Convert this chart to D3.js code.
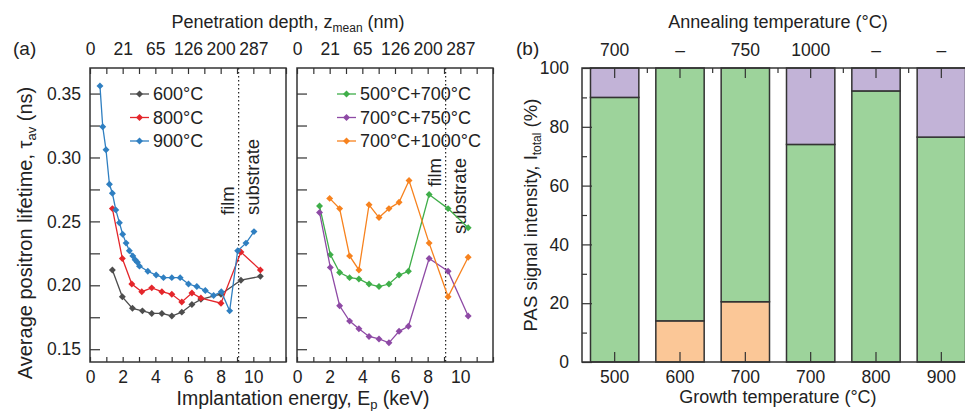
<!DOCTYPE html>
<html>
<head>
<meta charset="utf-8">
<script src="https://cdn.jsdelivr.net/npm/d3@7"></script>
<style>
  body { margin: 0; background: #fff; }
  svg { font-family: "Liberation Sans", Arial, Helvetica, sans-serif; }
</style>
</head>
<body>
<div id="chart"></div>
<script>
// ---- data: panel (a), left half (implantation energy keV / lifetime ns)
var energy600 = [1.37, 1.98, 2.6, 3.21, 3.78, 4.4, 5.01, 5.62, 6.24, 6.79, 8.02, 9.24, 10.43];
var tau600    = [0.212, 0.191, 0.182, 0.180, 0.178, 0.178, 0.176, 0.179, 0.185, 0.189, 0.193, 0.204, 0.207];
var energy800 = [1.37, 1.98, 2.56, 3.17, 3.78, 4.4, 5.01, 5.62, 6.24, 6.79, 8.02, 9.24, 10.43];
var tau800    = [0.260, 0.221, 0.201, 0.195, 0.198, 0.195, 0.193, 0.187, 0.194, 0.190, 0.186, 0.226, 0.212];
var energy900 = [0.61, 0.78, 0.98, 1.19, 1.37, 1.58, 1.80, 2.0, 2.21, 2.41, 2.62, 2.76, 2.90, 3.03,
                 3.54, 4.05, 4.5, 5.01, 5.52, 6.03, 6.54, 7.06, 7.57, 8.04, 8.55, 9.04, 9.55, 10.04];
var tau900    = [0.356, 0.324, 0.306, 0.279, 0.272, 0.259, 0.249, 0.240, 0.233, 0.227, 0.223, 0.220, 0.218, 0.215,
                 0.211, 0.208, 0.206, 0.206, 0.206, 0.201, 0.199, 0.196, 0.192, 0.195, 0.180, 0.227, 0.233, 0.242];

// ---- panel (a), right half
var energyTwoStep = [1.38, 2.04, 2.61, 3.22, 3.79, 4.41, 5.02, 5.63, 6.25, 6.82, 8.09, 9.25, 10.48];
var tau500_700    = [0.262, 0.224, 0.210, 0.206, 0.205, 0.201, 0.199, 0.201, 0.208, 0.211, 0.271, 0.260, 0.245];
var tau700_750    = [0.257, 0.214, 0.184, 0.172, 0.166, 0.160, 0.158, 0.155, 0.164, 0.168, 0.221, 0.211, 0.176];
var energy700_1000 = [2.0, 2.61, 3.22, 3.79, 4.41, 5.02, 5.63, 6.25, 6.86, 8.09, 9.25, 10.48];
var tau700_1000    = [0.268, 0.260, 0.223, 0.212, 0.263, 0.253, 0.260, 0.265, 0.282, 0.233, 0.191, 0.222];

var namesLeft  = ["600°C", "800°C", "900°C"];
var namesRight = ["500°C+700°C", "700°C+750°C", "700°C+1000°C"];

// top axis: mean penetration depth at 0,2,...,10 keV
var depthTickEnergy = [0, 2, 4, 6, 8, 10];
var depthLabels = ["0", "21", "65", "126", "200", "287"];
var interfaceEnergy = 9.1;

// ---- panel (b): PAS signal intensity (%)
var growthLabels    = ["500", "600", "700", "700", "800", "900"];
var annealLabels    = ["700", "–", "750", "1000", "–", "–"];
var orangeIntensity = [0, 14, 20.5, 0, 0, 0];
var greenIntensity  = [90, 86, 79.5, 74, 92.2, 76.5];
var purpleIntensity = [10, 0, 0, 26, 7.8, 23.5];

var width = 965, height = 411;
var plotTop = 68, plotBottom = 362;

var svg = d3.select("#chart").append("svg")
  .attr("width", width)
  .attr("height", height);

var yTau = d3.scaleLinear().domain([0.14, 0.37]).range([plotBottom, plotTop]);
var tauTicks = [0.15, 0.175, 0.2, 0.225, 0.25, 0.275, 0.3, 0.325, 0.35];

function pairs(xs, ys) {
  return xs.map(function(e, i) { return [e, ys[i]]; });
}

var diamond = d3.symbol().type(d3.symbolSquare).size(24);

function drawLifetimePanel(x0, series, names, showLabels, textAtTop) {
  var x = d3.scaleLinear().domain([0, 12]).range([x0, x0 + 196]);
  var g = svg.append("g");

  // axes (inward ticks)
  var bottom = g.append("g")
    .attr("transform", "translate(0," + plotBottom + ")")
    .call(d3.axisBottom(x).tickValues(d3.range(0, 13)).tickSize(-5).tickPadding(9)
      .tickFormat(function(d) { return (d % 2 === 0 && d <= 10) ? d : ""; }));
  var top = g.append("g")
    .attr("transform", "translate(0," + plotTop + ")")
    .call(d3.axisTop(x).tickValues(d3.range(0, 13)).tickSize(-6).tickPadding(13)
      .tickFormat(function(d) {
        var k = depthTickEnergy.indexOf(d);
        return k >= 0 ? depthLabels[k] : "";
      }));
  var left = g.append("g")
    .attr("transform", "translate(" + x0 + ",0)")
    .call(d3.axisLeft(yTau).tickValues(tauTicks).tickSize(-10).tickPadding(9)
      .tickFormat(function(d) {
        return showLabels && Math.round(d * 1000) % 50 === 0 ? d3.format(".2f")(d) : "";
      }));
  [bottom, top, left].forEach(function(a) {
    a.select(".domain").remove();
    a.selectAll("line").attr("stroke", "#333").attr("stroke-width", 1.2);
    a.selectAll("text").attr("font-size", 17.5).attr("fill", "#222")
      .attr("font-family", "Liberation Sans, Arial, sans-serif");
  });

  // frame
  g.append("rect")
    .attr("x", x0).attr("y", plotTop)
    .attr("width", 196).attr("height", plotBottom - plotTop)
    .attr("fill", "none").attr("stroke", "#333").attr("stroke-width", 1.5);

  // film / substrate interface
  var xi = x(interfaceEnergy);
  g.append("line")
    .attr("x1", xi).attr("x2", xi).attr("y1", plotTop).attr("y2", plotBottom)
    .attr("stroke", "#222").attr("stroke-width", 1.2).attr("stroke-dasharray", "1.5,2.5");
  var ty = textAtTop ? 158 : 215;
  [["film", xi - 5], ["substrate", xi + 20]].forEach(function(t) {
    g.append("text")
      .attr("transform", "translate(" + t[1] + "," + ty + ") rotate(-90)")
      .attr("text-anchor", textAtTop ? "end" : "start")
      .attr("font-size", 18.5).attr("fill", "#222")
      .text(t[0]);
  });

  var line = d3.line()
    .x(function(d) { return x(d[0]); })
    .y(function(d) { return yTau(d[1]); });

  series.forEach(function(s) {
    g.append("path")
      .attr("d", line(s.points))
      .attr("fill", "none").attr("stroke", s.color).attr("stroke-width", 1.3);
    g.selectAll(null).data(s.points).enter().append("path")
      .attr("d", diamond)
      .attr("transform", function(d) { return "translate(" + x(d[0]) + "," + yTau(d[1]) + ") rotate(45)"; })
      .attr("fill", s.color);
  });

  // legend
  var legend = g.selectAll(".legend").data(series).enter().append("g")
    .attr("transform", function(d, i) { return "translate(" + (x0 + 40) + "," + (94 + i * 23.5) + ")"; });
  legend.append("line")
    .attr("x1", 0).attr("x2", 19)
    .attr("stroke", function(d) { return d.color; }).attr("stroke-width", 1.3);
  legend.append("path")
    .attr("d", diamond)
    .attr("transform", "translate(9.5,0) rotate(45)")
    .attr("fill", function(d) { return d.color; });
  legend.append("text")
    .attr("x", 23).attr("dy", "0.35em")
    .attr("font-size", 18).attr("fill", "#222")
    .text(function(d, i) { return names[i]; });
}

drawLifetimePanel(90, [
  { points: pairs(energy600, tau600), color: "#4d4d4d" },
  { points: pairs(energy800, tau800), color: "#e4262b" },
  { points: pairs(energy900, tau900), color: "#2f7fc1" }
], namesLeft, true, false);

drawLifetimePanel(297, [
  { points: pairs(energyTwoStep, tau500_700), color: "#3fae49" },
  { points: pairs(energyTwoStep, tau700_750), color: "#8e4aa5" },
  { points: pairs(energy700_1000, tau700_1000), color: "#f7821e" }
], namesRight, false, true);

// titles of panel (a)
svg.append("text").attr("x", 13).attr("y", 55).attr("font-size", 19).attr("fill", "#222").text("(a)");
var tt = svg.append("text").attr("x", 288).attr("y", 28).attr("text-anchor", "middle")
  .attr("font-size", 18).attr("fill", "#222");
tt.append("tspan").text("Penetration depth, z");
tt.append("tspan").attr("font-size", 12).attr("dy", 4).text("mean");
tt.append("tspan").attr("dy", -4).text(" (nm)");

var bt = svg.append("text").attr("x", 303).attr("y", 405).attr("text-anchor", "middle")
  .attr("font-size", 19.5).attr("fill", "#222");
bt.append("tspan").text("Implantation energy, E");
bt.append("tspan").attr("font-size", 13).attr("dy", 4).text("p");
bt.append("tspan").attr("dy", -4).text(" (keV)");

var lt = svg.append("text").attr("transform", "translate(32,233) rotate(-90)")
  .attr("text-anchor", "middle").attr("font-size", 20).attr("fill", "#222");
lt.append("tspan").text("Average positron lifetime, τ");
lt.append("tspan").attr("font-size", 13).attr("dy", 4).text("av");
lt.append("tspan").attr("dy", -4).text(" (ns)");

// ---- panel (b)
var xb = d3.scaleBand().domain(d3.range(6)).range([582, 974]).paddingInner(0.26).paddingOuter(0.13);
var yb = d3.scaleLinear().domain([0, 100]).range([plotBottom, plotTop]);

var rows = growthLabels.map(function(d, i) {
  return { i: i, orange: orangeIntensity[i], green: greenIntensity[i], purple: purpleIntensity[i] };
});
var stackColors = { orange: "#fbc797", green: "#9dd39b", purple: "#c2b3d7" };
var stacked = d3.stack().keys(["orange", "green", "purple"])(rows);

var gb = svg.append("g");
stacked.forEach(function(layer) {
  gb.selectAll(null).data(layer.filter(function(d) { return d[1] - d[0] > 0; })).enter().append("rect")
    .attr("x", function(d) { return xb(d.data.i); })
    .attr("width", xb.bandwidth())
    .attr("y", function(d) { return yb(d[1]); })
    .attr("height", function(d) { return yb(d[0]) - yb(d[1]); })
    .attr("fill", stackColors[layer.key])
    .attr("stroke", "#333").attr("stroke-width", 1.5);
});

var bAxes = [];
bAxes.push(gb.append("g").attr("transform", "translate(0," + plotBottom + ")")
  .call(d3.axisBottom(xb).tickSize(-10).tickPadding(9).tickFormat(function(d) { return growthLabels[d]; })));
bAxes.push(gb.append("g").attr("transform", "translate(0," + plotTop + ")")
  .call(d3.axisTop(xb).tickSize(-10).tickPadding(12).tickFormat(function(d) { return annealLabels[d]; })));
bAxes.push(gb.append("g").attr("transform", "translate(582,0)")
  .call(d3.axisLeft(yb).tickValues(d3.range(0, 101, 20)).tickSize(-10).tickPadding(13)));
bAxes.push(gb.append("g").attr("transform", "translate(582,0)")
  .call(d3.axisLeft(yb).tickValues(d3.range(10, 100, 20)).tickSize(-5).tickFormat("")));
bAxes.forEach(function(a) {
  a.select(".domain").remove();
  a.selectAll("line").attr("stroke", "#333").attr("stroke-width", 1.2);
  a.selectAll("text").attr("font-size", 17.5).attr("fill", "#222")
    .attr("font-family", "Liberation Sans, Arial, sans-serif");
});

// short ticks between the bars on the top edge
var gapX = d3.range(1, 6).map(function(i) { return xb(i) - xb.step() * xb.paddingInner() / 2; });
gb.selectAll(null).data(gapX).enter().append("line")
  .attr("x1", function(d) { return d; }).attr("x2", function(d) { return d; })
  .attr("y1", plotTop).attr("y2", plotTop + 5)
  .attr("stroke", "#333").attr("stroke-width", 1.2);

// frame (right edge runs off the picture)
gb.append("path")
  .attr("d", "M974," + plotTop + "H582V" + plotBottom + "H974")
  .attr("fill", "none").attr("stroke", "#333").attr("stroke-width", 1.5);

svg.append("text").attr("x", 516).attr("y", 55).attr("font-size", 19).attr("fill", "#222").text("(b)");
svg.append("text").attr("x", 778).attr("y", 28).attr("text-anchor", "middle")
  .attr("font-size", 18).attr("fill", "#222").text("Annealing temperature (°C)");
svg.append("text").attr("x", 778).attr("y", 403).attr("text-anchor", "middle")
  .attr("font-size", 18).attr("fill", "#222").text("Growth temperature (°C)");
var rt = svg.append("text").attr("transform", "translate(537,215) rotate(-90)")
  .attr("text-anchor", "middle").attr("font-size", 18.5).attr("fill", "#222");
rt.append("tspan").text("PAS signal intensity, I");
rt.append("tspan").attr("font-size", 12).attr("dy", 4).text("total");
rt.append("tspan").attr("dy", -4).text(" (%)");
</script>
</body>
</html>
